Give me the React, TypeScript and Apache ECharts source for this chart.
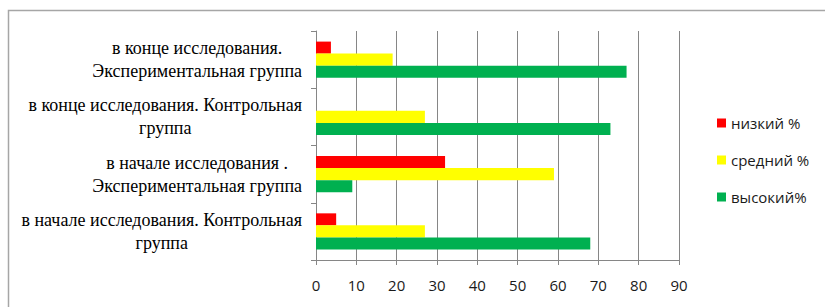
import React, { useEffect, useRef } from "react";
import * as echarts from "echarts";

const categories = [
  "в начале исследования. Контрольная\nгруппа",
  "в начале исследования .\nЭкспериментальная группа",
  "в конце исследования. Контрольная\nгруппа",
  "в конце исследования.\nЭкспериментальная группа",
];
const seriesNames = ["низкий %", "средний %", "высокий%"];
const lowValues = [5, 32, 0, 3.7];
const midValues = [27, 59, 27, 19];
const highValues = [68, 9, 73, 77];
const xTicks = { min: 0, max: 90, interval: 10 };
const colors = ["#FF0000", "#FFFF00", "#00B050"];

export default function App() {
  const ref = useRef<HTMLDivElement>(null);
  useEffect(() => {
    if (!ref.current) return;
    const chart = echarts.init(ref.current, undefined, { renderer: "svg" });
    const values = [lowValues, midValues, highValues];
    chart.setOption({
      animation: false,
      backgroundColor: "#ffffff",
      graphic: [
        {
          type: "rect",
          left: 6,
          top: 8,
          shape: { x: 0, y: 0, width: 840, height: 320 },
          style: { fill: "none", stroke: "#a6a6a6", lineWidth: 1.5 },
          silent: true,
          z: -1,
        },
      ],
      grid: { left: 316, right: 146, top: 31, bottom: 47 },
      legend: {
        orient: "vertical",
        left: 717,
        top: 115,
        padding: 0,
        itemWidth: 9,
        itemHeight: 9,
        itemGap: 21,
        itemStyle: { borderWidth: 0 },
        icon: "rect",
        data: seriesNames,
        textStyle: {
          fontFamily: "Open Sans",
          fontSize: 15,
          lineHeight: 16,
          color: "#1a1a1a",
        },
      },
      xAxis: {
        type: "value",
        min: xTicks.min,
        max: xTicks.max,
        interval: xTicks.interval,
        axisLine: { show: true, lineStyle: { color: "#868686", width: 1 } },
        axisTick: { show: true, length: 5, lineStyle: { color: "#868686" } },
        splitLine: { show: true, lineStyle: { color: "#868686", width: 1 } },
        axisLabel: {
          margin: 17,
          fontFamily: "Open Sans",
          fontSize: 15,
          color: "#1a1a1a",
        },
      },
      yAxis: {
        type: "category",
        data: categories,
        axisLine: { show: true, lineStyle: { color: "#868686", width: 1 } },
        axisTick: { show: true, length: 5, lineStyle: { color: "#868686" } },
        axisLabel: {
          margin: 14,
          align: "right",
          fontFamily: "Liberation Serif",
          fontSize: 18,
          lineHeight: 23,
          color: "#000",
          formatter: (v: string) =>
            v
              .split("\n")
              .map((l) => "{c|" + l + "}")
              .join("\n"),
          rich: {
            c: {
              align: "center",
              fontFamily: "Liberation Serif",
              fontSize: 18,
              lineHeight: 23,
              color: "#000",
            },
          },
        },
      },
      series: seriesNames.map((name, i) => ({
        name,
        type: "bar",
        data: values[i],
        itemStyle: { color: colors[i] },
        barGap: "0%",
        barCategoryGap: "37%",
      })),
    });
    return () => chart.dispose();
  }, []);
  return (
    <div
      ref={ref}
      style={{ position: "fixed", left: 0, top: 0, width: 825, height: 307 }}
    />
  );
}
